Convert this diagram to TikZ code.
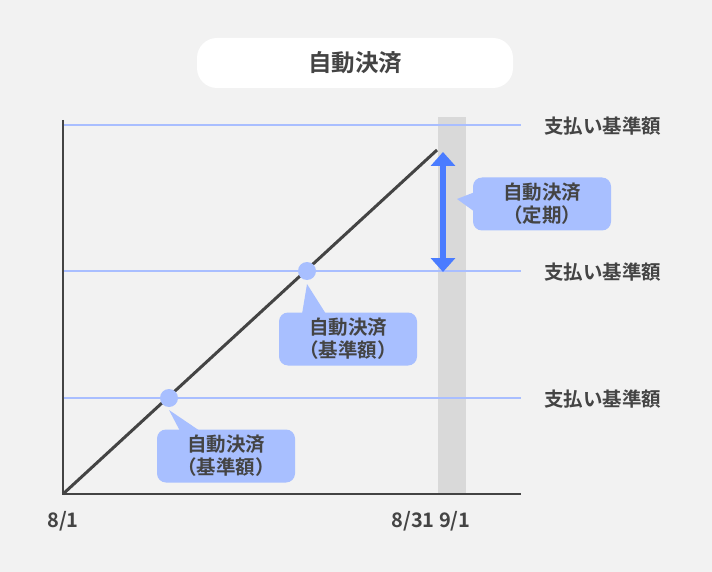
\documentclass[tikz,border=0pt]{standalone}
\usepackage{fontspec}
\newfontfamily\cjk{Noto Sans CJK JP Bold}
\usetikzlibrary{positioning,arrows.meta}
\definecolor{bg}{HTML}{F2F2F2}
\definecolor{ink}{HTML}{444444}
\definecolor{guide}{HTML}{A9BEFF}
\definecolor{bubble}{HTML}{A8BFFF}
\definecolor{arrowblue}{HTML}{4A7CFF}
\definecolor{band}{HTML}{D9D9D9}
\begin{document}
\begin{tikzpicture}[x=1pt,y=-1pt,font=\cjk,text=ink]
        % Setup the styles
        \tikzset{bubble style/.style={fill=bubble, rounded corners=9pt,
                                      minimum width=138pt, minimum height=53pt,
                                      align=center, font=\cjk\fontsize{19.5}{23}\selectfont},
                 ref style/.style={right, inner sep=0pt, font=\cjk\fontsize{19.5}{22}\selectfont},
                 axis label/.style={font=\cjk\fontsize{20}{22}\selectfont},
                 guide line/.style={guide, line width=1.6pt},
                 dot style/.style={circle, fill=bubble, minimum size=18pt, inner sep=0pt}}
        \fill[bg] (0,0) rectangle (712,572);
        \useasboundingbox (0,0) rectangle (712,572);
        % Title
        \node[fill=white, rounded corners=20pt, minimum width=316pt, minimum height=50pt,
              font=\cjk\fontsize{23.5}{26}\selectfont] (title) at (355,63) {自動決済};
        % Gray band and guide lines
        \fill[band] (438,117) rectangle (466,494);
        \foreach \y in {125,271,398}
            \draw[guide line] (63,\y) -- (521,\y);
        \node[ref style] (ref1) at (544,126) {支払い基準額};
        \node[ref style] (ref2) at (544,272) {支払い基準額};
        \node[ref style] (ref3) at (544,399) {支払い基準額};
        % Axes and growth line
        \coordinate (origin) at (63,494);
        \coordinate (top) at (437,150);
        \draw[ink, line width=2.5pt] (63,120) -- (origin) -- (521,494);
        \draw[ink, line width=3pt] (origin) -- (top);
        \node[axis label] (start) at (63,521) {8/1};
        \node[axis label] (end) at (431,521) {8/31 9/1};
        % Points
        \node[dot style] (dot1) at (169,398) {};
        \node[dot style] (dot2) at (307,271) {};
        % Double arrow
        \coordinate (up) at (443,152);
        \coordinate (down) at (443,272);
        \draw[arrowblue, line width=6pt, {Triangle[length=14pt,width=24pt]}-{Triangle[length=14pt,width=24pt]}] (up) -- (down);
        % Callouts
        \node[bubble style] (regular) at (542,204) {自動決済\\（定期）};
        \fill[bubble] (475,192) -- (457,199) -- (475,212) -- cycle;
        \node[bubble style] (base2) at (348,339) {自動決済\\（基準額）};
        \fill[bubble] (302,314) -- (307,284) -- (326,314) -- cycle;
        \node[bubble style] (base1) at (226,456) {自動決済\\（基準額）};
        \fill[bubble] (180,431) -- (169,410) -- (200,431) -- cycle;
\end{tikzpicture}
\end{document}
